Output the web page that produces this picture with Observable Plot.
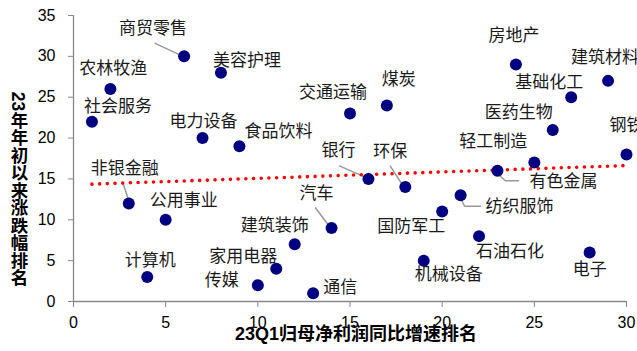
<!DOCTYPE html>
<html><head><meta charset="utf-8">
<script src="https://cdn.jsdelivr.net/npm/d3@7"></script>
<script src="https://cdn.jsdelivr.net/npm/@observablehq/plot@0.6"></script>
<style>body{margin:0;background:#fff;overflow:hidden}</style>
</head><body><div id="chart"></div>
<script>
const industries = ["社会服务","农林牧渔","非银金融","计算机","公用事业","商贸零售","电力设备","美容护理","食品饮料","传媒",
  "家用电器","建筑装饰","通信","汽车","交通运输","银行","煤炭","环保","机械设备","国防军工",
  "纺织服饰","石油石化","有色金属","房地产","轻工制造","医药生物","基础化工","电子","建筑材料","钢铁"];
const profitRank = [1,2,3,4,5,6,7,8,9,10,11,12,13,14,15,16,17,18,19,20,21,22,23,24,25,26,27,28,29,30];
const returnRank = [22,26,12,3,10,30,20,28,19,2,4,7,1,9,23,15,24,14,5,11,13,8,16,29,17,21,25,6,27,18];
const xTicks = [0,5,10,15,20,25,30];
const yTicks = [0,5,10,15,20,25,30,35];
const xTitle = "23Q1归母净利润同比增速排名";
const yTitle = "23年年初以来涨跌幅排名";

// label placement (pixel offsets of label centre from its point), layout only
const labelOffsets = {
  "商贸零售":[-31,-28],"美容护理":[26,-12],"农林牧渔":[3,-20],"社会服务":[26,-15],"电力设备":[1,-17],
  "食品饮料":[39,-15],"非银金融":[-4,-35],"公用事业":[18,-19],"计算机":[3,-16],"传媒":[-36,-5],
  "家用电器":[-33,-12],"建筑装饰":[-20,-19],"通信":[27,-6],"汽车":[-15,-34],"交通运输":[-17,-21],
  "煤炭":[12,-26],"银行":[-30,-28],"环保":[-15,-36],"房地产":[-2,-29],"建筑材料":[-3,-23],
  "基础化工":[-22,-15],"医药生物":[-34,-17],"轻工制造":[-41,-21],"钢铁":[0,-29],"有色金属":[66,11],
  "纺织服饰":[59,11],"国防军工":[-31,15],"石油石化":[31,15],"机械设备":[25,14],"电子":[0,17]
};
const leaders = {
  "商贸零售":[[-29,-13],[-3,-1]],
  "非银金融":[[-6,-21],[-1,-6]],
  "汽车":[[-16,-20],[-4,-4]],
  "银行":[[-29,-13],[-4,-2]],
  "环保":[[-15,-21],[-4,-4]],
  "有色金属":[[0,3],[8,10],[21,10]],
  "纺织服饰":[[0,3],[4,11],[20,11]]
};

const W = 637, H = 351, mL = 73, mR = 11, mT = 15, mB = 50;
const xDom = [0,30], yDom = [0,35];
const kx = (W - mL - mR) / (xDom[1]-xDom[0]);
const ky = (H - mT - mB) / (yDom[1]-yDom[0]);

const data = industries.map((name,i)=>({name, x: profitRank[i], y: returnRank[i]}));

const leaderSegs = [];
data.forEach(d=>{
  const L = leaders[d.name];
  if (!L) return;
  L.forEach(([px,py])=>leaderSegs.push({name:d.name, x: d.x + px/kx, y: d.y - py/ky}));
});

const textMarks = data.map(d=>{
  const [dx,dy] = labelOffsets[d.name];
  return Plot.text([d], {x:"x", y:"y", text:"name", dx, dy, fontSize:17,
    fontFamily:"'Noto Sans CJK SC', sans-serif", fill:"#1a1a1a"});
});

const chart = Plot.plot({
  width: W, height: H,
  marginLeft: mL, marginRight: mR, marginTop: mT, marginBottom: mB,
  style: {fontFamily: "'Liberation Sans', Arial, sans-serif", fontSize: "16px", background: "#fff", overflow: "visible"},
  x: {domain: xDom},
  y: {domain: yDom},
  marks: [
    Plot.axisX({ticks: xTicks, tickSize: 6, tickPadding: 9, stroke: "#888", fill: "#000", label: null, fontSize: 16}),
    Plot.axisY({ticks: yTicks, tickSize: 5, tickPadding: 13, stroke: "#888", fill: "#000", label: null, fontSize: 16}),
    Plot.ruleX([0], {stroke: "#888", strokeWidth: 1.3}),
    Plot.ruleY([0], {stroke: "#888", strokeWidth: 1.3}),
    Plot.line(leaderSegs, {x:"x", y:"y", z:"name", stroke:"#999", strokeWidth:1.5}),
    Plot.linearRegressionY(data, {x:"x", y:"y", ci: 0, stroke:"#ff0000", strokeWidth:3.6,
      strokeDasharray:"0,7.7", strokeLinecap:"round"}),
    Plot.dot(data, {x:"x", y:"y", r:6, fill:"#000080", stroke:"none"}),
    ...textMarks,
    Plot.text([xTitle], {frameAnchor:"bottom", dy: 38.5, fontSize:18, fontWeight:"bold",
      fontFamily:"'Liberation Sans', 'Noto Sans CJK SC', sans-serif", fill:"#000", dx: 6})
  ]
});
document.getElementById("chart").appendChild(chart);

d3.select(chart).append("text")
  .attr("x", 18).attr("y", 189)
  .attr("text-anchor", "middle")
  .attr("dominant-baseline", "central")
  .style("writing-mode", "vertical-rl")
  .style("text-orientation", "mixed")
  .style("font-family", "'Liberation Sans', 'Noto Sans CJK SC', sans-serif")
  .style("font-size", "17.5px")
  .style("font-weight", "bold")
  .attr("fill", "#000")
  .text(yTitle);
</script></body></html>
